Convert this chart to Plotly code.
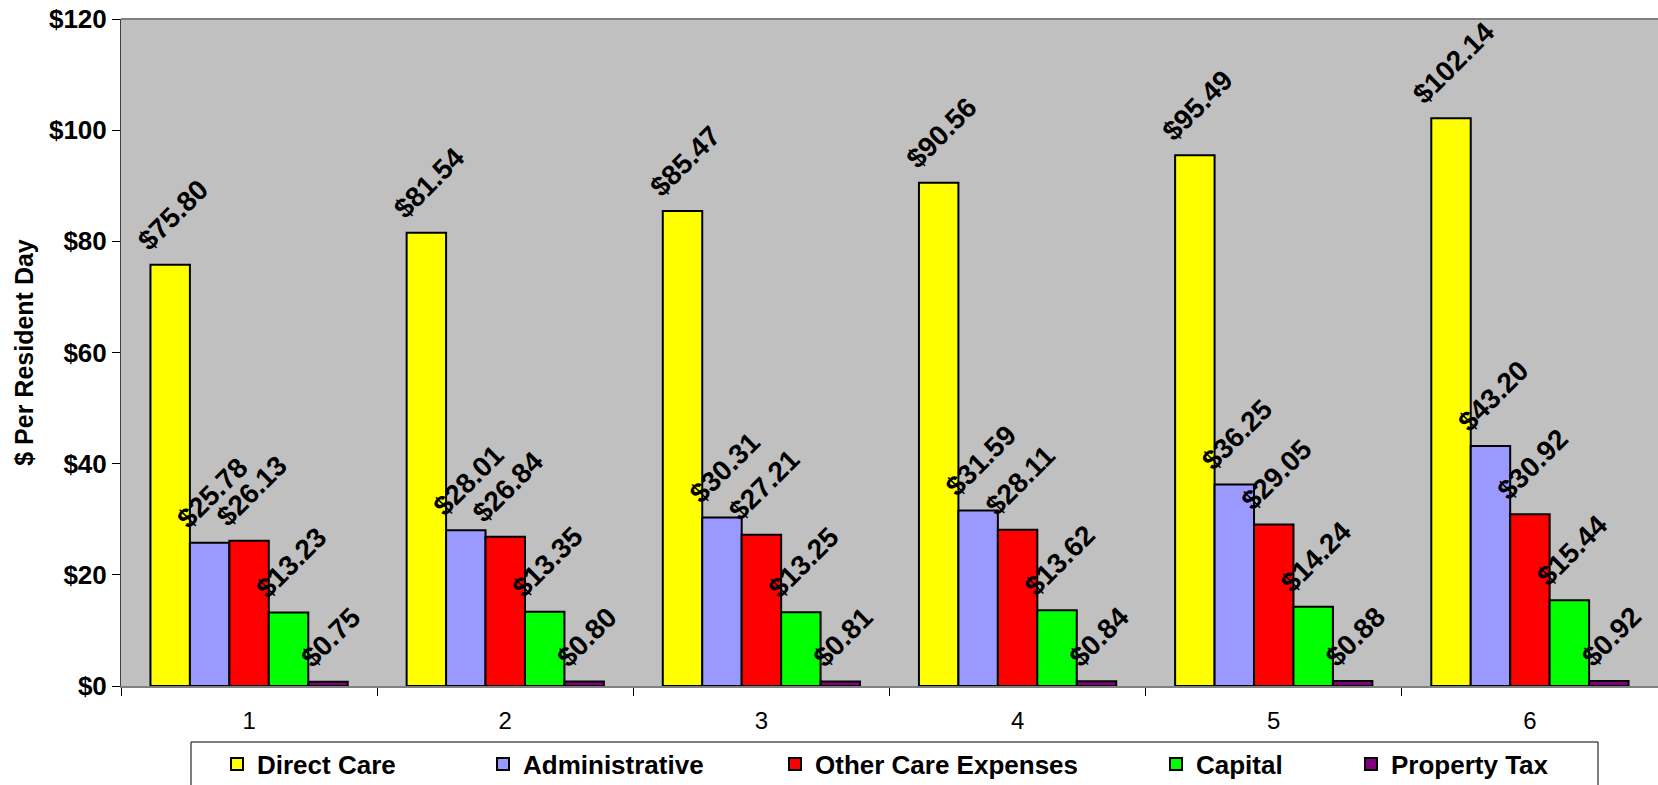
import plotly.graph_objects as go

# Cost per resident day by category, six reporting periods
periods = ["1", "2", "3", "4", "5", "6"]
direct_care = [75.80, 81.54, 85.47, 90.56, 95.49, 102.14]
administrative = [25.78, 28.01, 30.31, 31.59, 36.25, 43.20]
other_care = [26.13, 26.84, 27.21, 28.11, 29.05, 30.92]
capital = [13.23, 13.35, 13.25, 13.62, 14.24, 15.44]
property_tax = [0.75, 0.80, 0.81, 0.84, 0.88, 0.92]

series_names = ["Direct Care", "Administrative", "Other Care Expenses", "Capital", "Property Tax"]
series_values = [direct_care, administrative, other_care, capital, property_tax]
series_colors = ["#FFFF00", "#9999FF", "#FF0000", "#00FF00", "#800080"]

FONT = "Arial, Liberation Sans, sans-serif"
W, H = 1658, 785
ML, MR, MT, MB = 121, 0, 19, 99
PW = W - ML - MR
PH = H - MT - MB


def px_to_paper_x(px):
    return (px - ML) / PW


def px_to_paper_y(py):
    return (H - MB - py) / PH


# legend entries sit in one framed row below the axis
legend_text_x = [257, 523, 815, 1196, 1391]
legend_center_y = 764

fig = go.Figure()
for i, (name, vals, color) in enumerate(zip(series_names, series_values, series_colors)):
    lg = "legend" if i == 0 else f"legend{i + 1}"
    fig.add_trace(go.Bar(
        name=name,
        x=periods,
        y=vals,
        marker=dict(color=color, line=dict(color="#000000", width=2)),
        texttemplate="\u00a0$%{y:.2f}",
        textposition="outside",
        textangle=-45,
        constraintext="none",
        cliponaxis=False,
        textfont=dict(family=FONT, size=28, color="#000000", weight="bold"),
        legend=lg,
    ))

legend_layout = {}
for i, tx in enumerate(legend_text_x):
    key = "legend" if i == 0 else f"legend{i + 1}"
    legend_layout[key] = dict(
        x=px_to_paper_x(tx - 40),
        xanchor="left",
        y=px_to_paper_y(legend_center_y),
        yanchor="middle",
        orientation="h",
        bgcolor="rgba(0,0,0,0)",
        borderwidth=0,
        font=dict(family=FONT, size=26, color="#000000", weight="bold"),
    )

fig.update_layout(
    width=W,
    height=H,
    margin=dict(l=ML, r=MR, t=MT, b=MB, autoexpand=False),
    paper_bgcolor="#FFFFFF",
    plot_bgcolor="#C0C0C0",
    barmode="group",
    bargap=0.23,
    bargroupgap=0,
    showlegend=True,
    font=dict(family=FONT, color="#000000"),
    xaxis=dict(
        type="category",
        tickson="boundaries",
        ticks="outside",
        ticklen=8,
        tickcolor="#000000",
        tickwidth=1,
        showline=True,
        linecolor="#808080",
        linewidth=2,
        showgrid=False,
        ticklabelstandoff=12,
        tickfont=dict(family=FONT, size=24, color="#000000"),
        automargin=False,
    ),
    yaxis=dict(
        range=[0, 120],
        dtick=20,
        tickprefix="$",
        ticks="outside",
        ticklen=8,
        tickcolor="#000000",
        tickwidth=1,
        showline=True,
        linecolor="#404040",
        linewidth=1,
        showgrid=False,
        zeroline=False,
        tickfont=dict(family=FONT, size=26, color="#000000", weight="bold"),
        title=dict(text="$ Per Resident Day",
                   font=dict(family=FONT, size=25, color="#000000", weight="bold"),
                   standoff=8),
        automargin=False,
    ),
    shapes=[
        # top border of the plotting area
        dict(type="line", xref="paper", yref="paper", x0=0, x1=1, y0=1, y1=1,
             line=dict(color="#808080", width=2)),
        # legend frame
        dict(type="rect", xref="paper", yref="paper",
             x0=px_to_paper_x(191), x1=px_to_paper_x(1598),
             y0=px_to_paper_y(742), y1=px_to_paper_y(800),
             line=dict(color="#000000", width=1), fillcolor="#FFFFFF", layer="below"),
    ],
    **legend_layout,
)

fig.write_html("out.html")
